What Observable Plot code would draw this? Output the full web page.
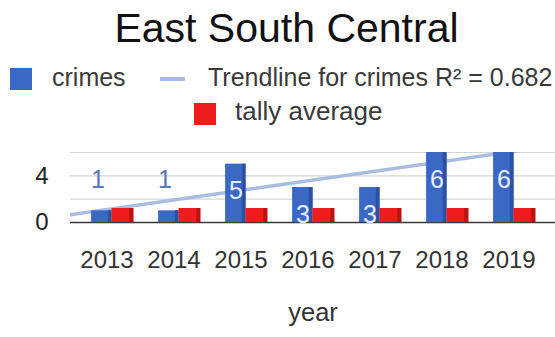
<!DOCTYPE html>
<html>
<head>
<meta charset="utf-8">
<script src="https://cdn.jsdelivr.net/npm/d3@7"></script>
<script src="https://cdn.jsdelivr.net/npm/@observablehq/plot@0.6"></script>
<style>
  html, body { margin: 0; padding: 0; background: #fff; }
  #wrap { position: relative; width: 555px; height: 337px; overflow: hidden; font-family: "Liberation Sans", Arial, sans-serif; }
  .abs { position: absolute; white-space: nowrap; }
  #chart { position: absolute; left: 0; top: 130px; }
</style>
</head>
<body>
<div id="wrap">
  <div class="abs" id="title" style="left:18px;width:537px;top:8px;text-align:center;font-size:41px;line-height:41px;color:#111;">East South Central</div>
  <div class="abs" style="left:10px;top:68px;width:22px;height:22px;background:#3b68c4;"></div>
  <div class="abs" style="left:52px;top:65px;font-size:25px;line-height:25px;color:#3a3a3a;">crimes</div>
  <div class="abs" style="left:160px;top:77px;width:25px;height:4px;background:#a9bde3;"></div>
  <div class="abs" style="left:208px;top:65px;font-size:25px;line-height:25px;color:#3a3a3a;">Trendline for crimes R² = 0.682</div>
  <div class="abs" style="left:194px;top:103px;width:22px;height:22px;background:#ee1c1c;"></div>
  <div class="abs" style="left:235px;top:98px;font-size:26px;line-height:26px;color:#3a3a3a;">tally average</div>
  <div id="chart"></div>
</div>
<script>
const years = [2013, 2014, 2015, 2016, 2017, 2018, 2019];
const crimes = [1, 1, 5, 3, 3, 6, 6];
const tallyAverage = [1.2, 1.2, 1.2, 1.2, 1.2, 1.2, 1.2];
const gridTicks = [0, 2, 4, 6];
const yTickLabels = [0, 4];
const xLabel = "year";

const rows = years.map((year, i) => ({year, crimes: crimes[i], tally: tallyAverage[i]}));

// least-squares trendline of crimes over year
const mx = d3.mean(years), my = d3.mean(crimes);
const sxy = d3.sum(years, (x, i) => (x - mx) * (crimes[i] - my));
const sxx = d3.sum(years, x => (x - mx) ** 2);
const slope = sxy / sxx, intercept = my - slope * mx;
const xDomain = [2012.455, 2019.694];
const trend = xDomain.map(x => ({x, y: intercept + slope * x}));

const chart = Plot.plot({
  width: 555,
  height: 207,
  marginLeft: 70,
  marginRight: 0,
  marginTop: 22,
  marginBottom: 115,
  style: {fontFamily: "Liberation Sans, Arial, sans-serif", fontSize: "24px", color: "#333", background: "#fff"},
  x: {type: "linear", domain: xDomain},
  y: {domain: [0, 6]},
  marks: [
    Plot.gridY(gridTicks, {stroke: "#d6d6d6", strokeOpacity: 1, strokeWidth: 1.2}),
    Plot.line(trend, {x: "x", y: "y", stroke: "#a9bde3", strokeWidth: 3.5, clip: true}),
    Plot.ruleY([0], {stroke: "#3a3a3a", strokeWidth: 1.5}),
    Plot.rectY(rows, {x1: d => d.year - 0.23, x2: d => d.year + 0.075, y: "crimes", fill: "#3b68c4"}),
    Plot.rectY(rows, {x1: d => d.year + 0.02, x2: d => d.year + 0.075, y: "crimes", fill: "#2a51a2"}),
    Plot.rectY(rows, {x1: d => d.year + 0.075, x2: d => d.year + 0.40, y: "tally", fill: "#ee1c1c"}),
    Plot.rectY(rows, {x1: d => d.year + 0.34, x2: d => d.year + 0.40, y: "tally", fill: "#b81414"}),
    Plot.text(rows, {filter: d => d.crimes >= 2, x: "year", y: "crimes", text: d => String(d.crimes), dx: -5, dy: 27, fill: "#e6eefc", fontSize: 25}),
    Plot.text(rows, {filter: d => d.crimes < 2, x: "year", y: "crimes", text: d => String(d.crimes), dx: -9, dy: -31, fill: "#5878c0", fontSize: 25}),
    Plot.axisY(yTickLabels, {tickSize: 0, tickPadding: 22, fontSize: 24, fill: "#222", label: null}),
    Plot.axisX(years, {tickSize: 0, tickPadding: 28, fontSize: 24, fill: "#333", tickFormat: d => String(d), label: null}),
    Plot.text([xLabel], {frameAnchor: "bottom", dy: 98, fontSize: 25.5, fill: "#333"})
  ]
});
document.getElementById("chart").appendChild(chart);
</script>
</body>
</html>
